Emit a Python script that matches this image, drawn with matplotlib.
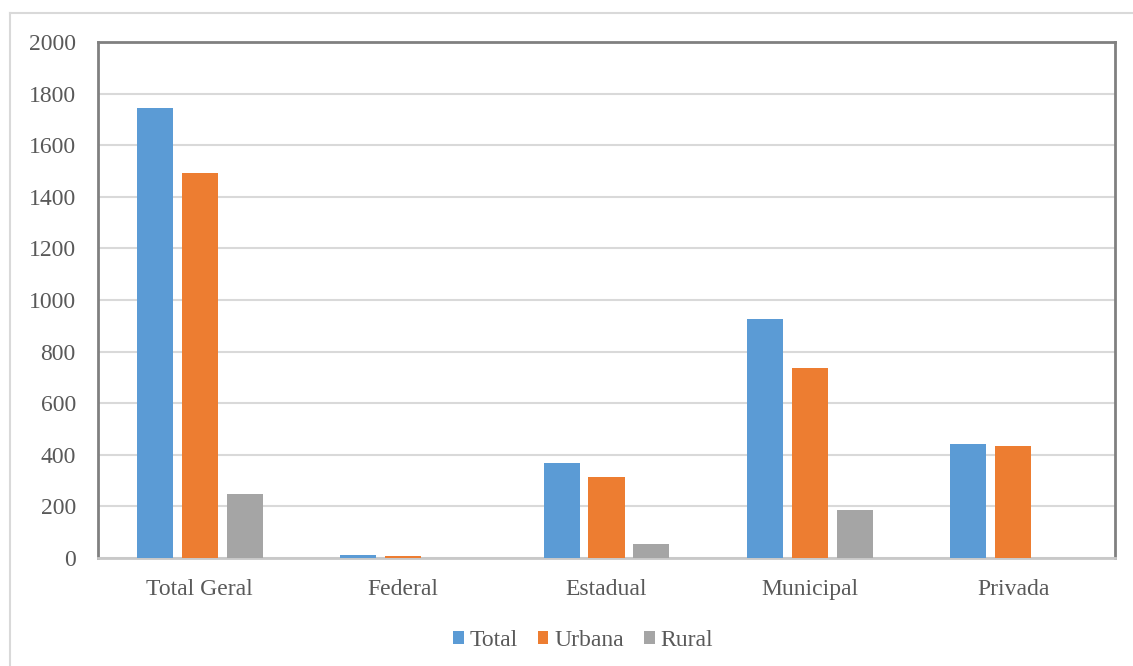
import numpy as np
import matplotlib.pyplot as plt
from matplotlib.lines import Line2D

plt.rcParams['font.family'] = ['Liberation Serif', 'DejaVu Serif']

# data
categories = ['Total Geral', 'Federal', 'Estadual', 'Municipal', 'Privada']
series_names = ['Total', 'Urbana', 'Rural']
total = [1744, 11, 368, 926, 442]
urbana = [1494, 9, 314, 736, 435]
rural = [248, 1, 54, 186, 1]
colors = ['#5B9BD5', '#ED7D31', '#A5A5A5']

fig = plt.figure(figsize=(11.33, 6.66), dpi=100)
ax = fig.add_axes([98 / 1133, 108 / 666, 1017 / 1133, 516 / 666])

# outer chart border
fig.add_artist(Line2D([10 / 1133, 1.0], [1 - 13 / 666, 1 - 13 / 666],
                      transform=fig.transFigure, color='#d9d9d9', lw=1.5))
fig.add_artist(Line2D([10 / 1133, 10 / 1133], [0, 1 - 13 / 666],
                      transform=fig.transFigure, color='#d9d9d9', lw=1.5))

x = np.arange(len(categories))
w = 0.177
step = 0.221
for i, (vals, name) in enumerate(zip([total, urbana, rural], series_names)):
    ax.bar(x + (i - 1) * step, vals, width=w, color=colors[i], label=name, zorder=3)

ax.set_xlim(-0.5, len(categories) - 0.5)
ax.set_ylim(0, 2000)
ax.set_yticks(range(0, 2001, 200))
ax.set_xticks(x)
ax.set_xticklabels(categories)
ax.yaxis.grid(True, color='#d9d9d9', lw=1.5, zorder=0)
ax.tick_params(length=0, labelsize=17, colors='#595959')
ax.tick_params(axis='x', pad=15)
ax.tick_params(axis='y', pad=16)

for side in ['left', 'top', 'right']:
    ax.spines[side].set_color('#808080')
    ax.spines[side].set_linewidth(2)
ax.spines['bottom'].set_color('#c8c8c8')
ax.spines['bottom'].set_linewidth(2)

ax.legend(loc='center', bbox_to_anchor=(0.477, -0.16), ncol=3, frameon=False,
          fontsize=17, handlelength=0.45, handleheight=0.45, handletextpad=0.25,
          columnspacing=0.85, labelcolor='#595959')

fig.savefig('out.png', dpi=100)
